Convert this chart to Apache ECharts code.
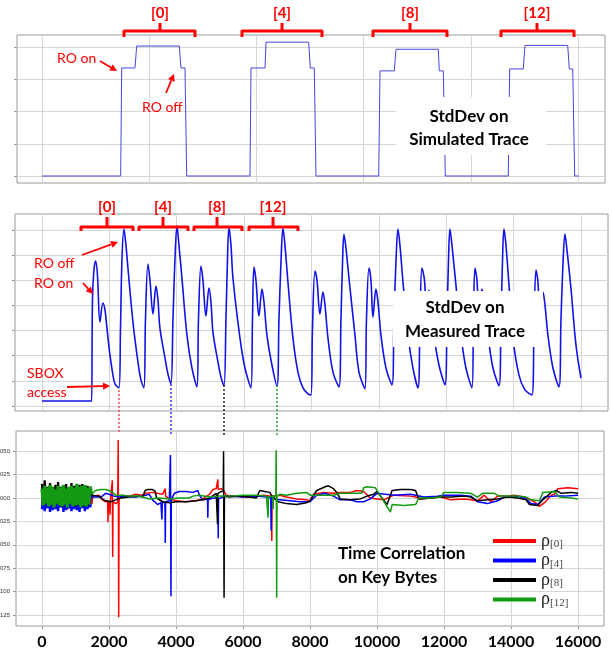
<!DOCTYPE html>
<html><head><meta charset="utf-8">
<script src="https://cdn.jsdelivr.net/npm/echarts@6/dist/echarts.min.js"></script>
<style>html,body{margin:0;padding:0;background:#fff}#c{width:612px;height:654px}</style>
</head><body><div id="c"></div>
<script>
// ---------- DATA ----------
// Top panel: StdDev on simulated trace (x in samples, y in tick units)
const simTrace = [[0,0],[2349,0],[2379,3.35],[2776,3.35],[2827,4.03],[4099,4.03],[4149,3.35],[4269,3.35],[4319,0],[6209,0],[6239,3.35],[6657,3.35],[6687,4.15],[7961,4.15],[8009,3.35],[8128,3.35],[8179,0],[10051,0],[10090,3.26],[10516,3.26],[10567,3.93],[11830,3.93],[11860,3.26],[11979,3.26],[12039,0],[13919,0],[13961,3.32],[14367,3.32],[14418,4.05],[15693,4.05],[15740,3.32],[15842,3.32],[15901,0],[16021,0]];
const simXTicks = [0,3200,6400,9600,12800,16000];
const simYTicks = [0,1,2,3,4];

// Middle panel: StdDev on measured trace
const measTrace = [[0,0.2],[1454,0.2],[1475,0.2],[1499,4.22],[1543,5.41],[1594,5.77],[1647,5.21],[1721,3.34],[1810,4.10],[1870,3.82],[1929,3.10],[2018,2.03],[2107,1.23],[2167,0.88],[2285,0.72],
[2330,3.02],[2374,5.81],[2434,7.04],[2493,6.40],[2552,5.49],[2701,3.34],[2849,1.75],[2938,1.03],[3027,0.72],
[3072,3.42],[3146,5.65],[3206,5.01],[3295,3.66],[3384,4.77],[3443,4.22],[3502,3.10],[3651,1.91],[3740,1.27],[3829,0.88],
[3888,3.42],[3947,5.81],[4007,7.16],[4066,6.40],[4155,5.09],[4304,2.82],[4452,1.51],[4600,0.76],
[4645,3.42],[4719,5.57],[4778,5.01],[4867,3.58],[4957,4.69],[5016,4.14],[5075,2.94],[5224,1.75],[5313,1.15],[5402,0.80],
[5461,3.42],[5506,5.81],[5550,7.12],[5610,6.40],[5669,5.09],[5877,2.70],[6025,1.51],[6203,0.72],
[6248,3.42],[6292,5.53],[6351,5.01],[6440,3.58],[6530,4.65],[6589,4.14],[6678,2.82],[6826,1.63],[6975,0.80],
[7034,3.42],[7094,5.73],[7153,7.08],[7212,6.40],[7301,4.93],[7450,2.70],[7598,1.35],[7746,0.72],[7895,0.48],[7984,0.44],
[8028,3.02],[8103,5.37],[8162,5.01],[8251,3.66],[8340,4.53],[8400,4.02],[8489,2.70],[8637,1.35],[8815,0.76],
[8874,3.42],[8919,5.61],[8963,6.84],[9023,6.28],[9112,5.09],[9290,2.82],[9409,1.35],[9587,0.68],
[9631,3.42],[9706,5.49],[9765,5.01],[9824,3.54],[9913,4.65],[9973,4.14],[10062,2.82],[10210,1.51],[10388,0.84],
[10447,3.42],[10507,5.73],[10566,7.04],[10625,6.40],[10715,4.93],[10863,2.82],[11011,1.51],[11160,0.72],
[11219,3.42],[11278,5.49],[11353,5.01],[11413,3.62],[11486,4.61],[11546,4.10],[11635,2.82],[11783,1.63],[11961,0.84],
[12020,3.42],[12065,5.73],[12109,7.04],[12169,6.40],[12287,4.81],[12436,2.82],[12584,1.51],[12762,0.72],
[12807,3.42],[12851,5.49],[12911,5.01],[12970,3.54],[13059,4.65],[13119,4.14],[13237,2.82],[13386,1.51],[13564,0.80],
[13623,3.42],[13668,5.73],[13712,7.04],[13772,6.40],[13861,4.81],[13980,2.70],[14158,1.23],[14336,0.64],[14543,0.44],
[14603,3.02],[14662,5.41],[14722,4.93],[14766,3.62],[14870,4.53],[14929,4.02],[15018,2.82],[15166,1.51],[15344,0.76],
[15404,3.42],[15463,5.61],[15522,6.84],[15582,6.21],[15700,4.69],[15849,2.43],[15997,1.11]];
const measXTicks = [0,2000,4000,6000,8000,10000,12000,14000,16000];
const measYTicks = [0,1,2,3,4,5,6,7];

// Bottom panel: time correlation on key bytes
const corrXTicks = [0,2000,4000,6000,8000,10000,12000,14000,16000];
const corrYTicks = [-0.125,-0.1,-0.075,-0.05,-0.025,0,0.025,0.05];
const noiseStep = 40; // sample spacing of the noisy start segment
const rho0Noise = [0.008,-0.009,0.011,-0.007,0.010,-0.010,0.009,-0.008,0.012,-0.009,0.010,-0.011,0.013,-0.008,0.009,-0.010,0.011,-0.009,0.010,-0.012,0.008,-0.010,0.012,-0.009,0.011,-0.008,0.010,-0.011,0.009,-0.010,0.013,-0.009,0.011,-0.010,0.012,-0.008,0.010,-0.006];
const rho4Noise = [-0.012,0.008,-0.014,0.006,-0.011,0.009,-0.015,0.007,-0.013,0.010,-0.012,0.005,-0.014,0.008,-0.010,0.009,-0.015,0.006,-0.013,0.010,-0.011,0.007,-0.014,0.008,-0.012,0.009,-0.013,0.006,-0.015,0.008,-0.011,0.010,-0.014,0.007,-0.012,0.009,-0.010,0.004];
const rho8Noise = [0.015,-0.008,0.019,-0.006,0.012,-0.009,0.016,-0.007,0.011,-0.010,0.014,-0.006,0.017,-0.008,0.012,-0.009,0.013,-0.007,0.015,-0.010,0.011,-0.006,0.016,-0.008,0.013,-0.009,0.012,-0.007,0.014,-0.008,0.015,-0.009,0.011,-0.007,0.013,-0.008,0.012,0.003];
const rho12Noise = [0.010,-0.008,0.013,-0.006,0.011,-0.009,0.014,-0.007,0.012,-0.010,0.009,-0.006,0.013,-0.008,0.011,-0.009,0.014,-0.007,0.010,-0.010,0.012,-0.006,0.013,-0.009,0.011,-0.008,0.015,-0.007,0.012,-0.010,0.013,-0.008,0.014,-0.009,0.011,-0.007,0.012,0.004];

const rho0Trace = [[1480,-0.006],[1520,0.002],[1700,0.003],[1800,-0.002],[1900,-0.004],[1960,-0.003],[1970,-0.026],[1980,-0.004],[2000,-0.012],[2010,-0.003],[2030,-0.018],[2040,-0.004],[2050,-0.005],[2100,0.019],[2110,-0.063],[2120,-0.004],[2200,-0.006],[2260,-0.004],[2275,0.062],[2290,-0.1275],[2300,-0.001],[2400,0.003],[2600,0.002],[2800,0.004],[3000,0.003],[3100,0.005],[3300,0.006],[3600,0.004],[3680,0.010],[3690,0.002],[3800,-0.001],[4000,-0.003],[4300,-0.004],[4600,-0.003],[4800,-0.001],[5000,0.004],[5100,0.009],[5200,0.010],[5250,0.020],[5260,0.009],[5350,0.010],[5420,0.008],[5500,0.003],[5800,0.002],[6000,0.001],[6300,0.001],[6600,0.003],[6850,0.002],[6860,-0.046],[6870,0.002],[7100,0.003],[7300,0.001],[7600,-0.001],[7900,-0.002],[8000,-0.003],[8100,0.004],[8400,0.006],[8700,0.005],[8900,0.006],[9200,0.006],[9400,0.008],[9600,0.007],[9800,0.000],[10000,-0.001],[10200,-0.002],[10500,0.003],[11000,0.002],[11150,0.001],[11300,-0.001],[11600,0.000],[11900,0.001],[12200,-0.002],[12600,-0.001],[12800,-0.002],[13000,-0.003],[13200,0.003],[13400,-0.004],[13600,0.002],[13800,0.002],[14100,0.003],[14400,0.001],[14700,-0.004],[14850,-0.009],[15000,-0.005],[15200,0.003],[15300,0.004],[15400,0.010],[15700,0.011],[16000,0.010]];
const rho4Trace = [[1480,0.004],[1520,0.001],[1700,0.001],[1800,0.002],[1900,0.005],[2000,0.004],[2150,0.002],[2300,0.001],[2500,0.002],[2800,0.001],[3000,0.002],[3200,0.004],[3300,-0.002],[3450,-0.007],[3550,-0.005],[3570,-0.004],[3580,-0.023],[3590,-0.004],[3670,-0.005],[3680,-0.048],[3690,-0.004],[3800,-0.003],[3835,0.046],[3850,-0.105],[3860,-0.002],[3950,0.005],[4100,0.007],[4300,0.007],[4500,0.006],[4650,0.008],[4700,0.003],[4800,-0.002],[4940,-0.001],[4950,-0.021],[4960,-0.002],[5100,0.000],[5250,0.000],[5260,-0.043],[5270,-0.001],[5400,0.001],[5600,0.002],[6000,0.001],[6400,0.002],[6700,0.001],[6830,0.000],[6840,-0.035],[6850,0.000],[7100,-0.002],[7400,-0.003],[7700,-0.004],[8000,-0.004],[8200,0.003],[8450,0.005],[8700,0.002],[8900,-0.002],[9200,-0.002],[9400,-0.004],[9600,-0.004],[9800,-0.001],[10000,0.005],[10250,0.004],[10500,0.003],[11000,0.004],[11150,0.003],[11400,0.001],[11800,0.002],[12000,0.003],[12500,0.003],[12800,0.002],[13000,-0.004],[13300,-0.006],[13600,-0.003],[13800,0.001],[14200,0.002],[14450,-0.001],[14600,-0.006],[14800,-0.007],[15000,0.001],[15300,0.002],[15600,0.002],[16000,0.003]];
const rho8Trace = [[1480,0.003],[1520,0.001],[1700,0.002],[1800,-0.001],[1900,-0.003],[2050,-0.004],[2200,-0.002],[2350,0.000],[2600,0.001],[2900,0.002],[3000,0.001],[3080,0.008],[3150,0.009],[3300,0.009],[3380,0.007],[3420,0.000],[3600,-0.004],[3800,-0.005],[4000,-0.004],[4300,-0.004],[4600,-0.003],[4800,-0.002],[5000,0.000],[5200,0.005],[5230,0.005],[5240,-0.028],[5250,0.005],[5350,0.007],[5410,0.007],[5420,0.050],[5435,-0.1065],[5445,0.002],[5600,0.001],[5900,0.002],[6200,0.001],[6400,0.000],[6500,0.008],[6650,0.007],[6800,0.006],[6850,0.003],[7050,-0.004],[7300,-0.006],[7600,-0.007],[7900,-0.005],[8000,-0.003],[8200,0.008],[8450,0.012],[8550,0.013],[8700,0.010],[8800,0.006],[8900,-0.001],[9200,-0.002],[9500,-0.001],[9700,0.002],[9900,0.004],[10000,0.007],[10300,-0.007],[10450,0.008],[10700,0.009],[11000,0.009],[11150,0.008],[11250,-0.001],[11600,0.000],[11900,0.001],[12200,0.001],[12600,0.002],[12800,0.001],[13000,-0.003],[13300,-0.002],[13600,-0.001],[13900,0.001],[14200,0.000],[14450,-0.002],[14550,-0.007],[14800,-0.008],[14950,-0.002],[15200,0.006],[15350,0.008],[15500,0.005],[15800,0.006],[16000,0.005]];
const rho12Trace = [[1480,0.004],[1520,0.005],[1600,0.008],[1750,0.009],[1900,0.009],[2000,0.008],[2100,0.006],[2200,0.003],[2350,0.003],[2600,0.002],[2900,0.002],[3000,0.001],[3200,-0.001],[3500,0.000],[3800,-0.001],[4100,0.000],[4400,0.000],[4500,0.002],[4700,0.003],[5000,0.001],[5300,0.002],[5600,0.002],[6000,0.003],[6400,0.003],[6700,0.002],[6740,0.002],[6750,-0.021],[6760,0.001],[6890,0.002],[6900,-0.012],[6910,0.002],[6980,0.002],[6990,0.051],[7005,-0.1065],[7015,0.002],[7100,0.004],[7300,0.003],[7600,0.005],[7900,0.006],[8000,0.003],[8300,0.003],[8700,0.003],[8900,0.005],[9200,0.005],[9550,0.005],[9600,0.011],[9700,0.012],[9950,0.011],[10400,-0.015],[10450,-0.007],[10800,-0.008],[11150,-0.007],[11250,0.000],[11600,0.000],[11900,0.001],[12000,0.006],[12400,0.006],[12800,0.005],[13000,0.001],[13150,0.005],[13500,0.005],[13650,0.002],[13900,0.002],[14200,0.002],[14450,0.001],[14600,-0.002],[14850,-0.003],[14950,0.006],[15300,0.007],[15450,0.001],[15800,0.000],[16000,-0.001]];

const rhoNames = ['ρ[0]','ρ[4]','ρ[8]','ρ[12]'];
const rhoColors = ['#ff0000','#0000ff','#000000','#129a12'];
const rhoNoise = [rho0Noise, rho4Noise, rho8Noise, rho12Noise];
const rhoTrace = [rho0Trace, rho4Trace, rho8Trace, rho12Trace];

// ---------- CHART ----------
const SANS = 'Lato, "Open Sans", sans-serif';
const RED = '#ff0000';
const GRIDC = '#d6d6d6';
const BORDER = '#9a9a9a';

function xAx(grid, min, max, ticks, showLabels){
  return {type:'value', gridIndex:grid, min:min, max:max,
    axisLine:{show:false, onZero:false},
    axisTick:{show:showLabels, length:3, customValues:ticks, lineStyle:{color:BORDER}},
    axisLabel:{show:showLabels, customValues:ticks, color:'#000', fontFamily:SANS, fontWeight:'bold', fontSize:16, margin:8,
      formatter:function(v){return String(v);}},
    splitLine:{show:true, lineStyle:{color:GRIDC, width:1}}};
}
function yAx(grid, min, max, ticks, showLabels){
  return {type:'value', gridIndex:grid, min:min, max:max,
    axisLine:{show:false, onZero:false},
    axisTick:{show:true, length:3, customValues:ticks, lineStyle:{color:BORDER}},
    axisLabel:{show:showLabels, customValues:ticks, color:'#333', fontFamily:'"Liberation Sans", sans-serif', fontSize:6, margin:6,
      formatter:function(v){return v.toFixed(3);}},
    splitLine:{show:true, lineStyle:{color:GRIDC, width:1}}};
}

function arrow(x1,y1,x2,y2){
  const dx=x2-x1, dy=y2-y1, L=Math.hypot(dx,dy), ux=dx/L, uy=dy/L;
  const hl=7, hw=3.6, bx=x2-ux*hl, by=y2-uy*hl;
  return [
    {type:'line', z:120, shape:{x1:x1,y1:y1,x2:bx,y2:by}, style:{stroke:RED, lineWidth:1.8}},
    {type:'polygon', z:120, shape:{points:[[x2,y2],[bx-uy*hw,by+ux*hw],[bx+uy*hw,by-ux*hw]]}, style:{fill:RED}}
  ];
}
function brace(x1,x2,cx,yb,yh,yt,label,ly){
  return [
    {type:'polyline', z:120, shape:{points:[[x1,yb],[x1,yh],[x2,yh],[x2,yb]]}, style:{stroke:RED, lineWidth:3, fill:null, lineJoin:'round'}},
    {type:'line', z:120, shape:{x1:cx,y1:yh,x2:cx,y2:yt}, style:{stroke:RED, lineWidth:3}},
    txt(label, cx, ly, 'bold 15px '+SANS, RED, 'center')
  ];
}
function txt(t,x,y,font,color,align,lh){
  return {type:'text', z:130, x:x, y:y, style:{text:t, font:font, fill:color,
    align:align, textAlign:align, verticalAlign:'middle', textVerticalAlign:'middle', lineHeight:lh||18}};
}
function dotted(x,y1,y2,color){
  return {type:'line', z:110, shape:{x1:x,y1:y1,x2:x,y2:y2}, style:{stroke:color, lineWidth:1.5, lineDash:[2,2]}};
}

const series = [
  {type:'line', xAxisIndex:0, yAxisIndex:0, data:simTrace, symbol:'none', lineStyle:{color:'#4646dc', width:1}, itemStyle:{color:'#4646dc'}, silent:true},
  {type:'line', xAxisIndex:1, yAxisIndex:1, data:measTrace, symbol:'none', smooth:0.35, lineStyle:{color:'#1212e6', width:1.6}, itemStyle:{color:'#1212e6'}, silent:true}
];
// noisy start segments (thicker), then the traces
const noiseWidths = [2.4, 2.4, 2.2, 3.2];
for(let k=0;k<4;k++){
  series.push({type:'line', name:rhoNames[k], xAxisIndex:2, yAxisIndex:2,
    data:rhoNoise[k].map(function(v,i){return [i*noiseStep, v];}), symbol:'none',
    lineStyle:{color:rhoColors[k], width:noiseWidths[k]}, itemStyle:{color:rhoColors[k]}, silent:true});
}
for(let k=0;k<4;k++){
  series.push({type:'line', name:rhoNames[k], xAxisIndex:2, yAxisIndex:2, data:rhoTrace[k], symbol:'none',
    lineStyle:{color:rhoColors[k], width:1.5}, itemStyle:{color:rhoColors[k]}, silent:true});
}

let g = [];
g = g.concat(brace(124,195,160,37,31,23,'[0]',13));
g = g.concat(brace(242,322,282,37,31,23,'[4]',13));
g = g.concat(brace(373,447,410,37,31,23,'[8]',13));
g = g.concat(brace(501,574,537,37,31,23,'[12]',13));
g.push(txt('RO on', 57, 58, '14px '+SANS, RED, 'left'));
g = g.concat(arrow(100,61,117,71));
g.push(txt('RO off', 142, 107, '14px '+SANS, RED, 'left'));
g = g.concat(arrow(166,93,174,74));
g.push({type:'rect', z:100, shape:{x:396,y:97,width:150,height:58}, style:{fill:'#fff'}});
g.push(txt('StdDev on\nSimulated Trace', 469, 128.5, 'bold 17px '+SANS, '#000', 'center', 23));
g = g.concat(brace(81,133,107,231,227,217,'[0]',207));
g = g.concat(brace(139,188,163,231,227,217,'[4]',207));
g = g.concat(brace(194,242,217,231,227,217,'[8]',207));
g = g.concat(brace(249,298,273,231,227,217,'[12]',207));
g.push(txt('RO off', 34, 263, '14px '+SANS, RED, 'left'));
g = g.concat(arrow(82,255,118,242));
g.push(txt('RO on', 34, 283, '14px '+SANS, RED, 'left'));
g = g.concat(arrow(83,283,93,294));
g.push(txt('SBOX\naccess', 27, 382.5, '14px '+SANS, RED, 'left', 19));
g = g.concat(arrow(67,387,110,386));
g.push({type:'rect', z:100, shape:{x:393,y:291,width:150,height:56}, style:{fill:'#fff'}});
g.push(txt('StdDev on\nMeasured Trace', 465, 320, 'bold 17px '+SANS, '#000', 'center', 24));
g.push(dotted(119,390,432,'#ff5050'));
g.push(dotted(171,384,435,'#3030ff'));
g.push(dotted(224,385,435,'#222222'));
g.push(dotted(277,385,435,'#20a040'));
g.push(txt('Time Correlation\non Key Bytes', 338, 566, 'bold 17px '+SANS, '#000', 'left', 24));

const option = {
  animation:false,
  backgroundColor:'#fff',
  grid:[
    {left:17, top:35, width:588, height:148, show:true, borderColor:BORDER, borderWidth:1, containLabel:false, outerBoundsMode:'none'},
    {left:15, top:214, width:593, height:197, show:true, borderColor:BORDER, borderWidth:1, containLabel:false, outerBoundsMode:'none'},
    {left:16, top:431, width:588, height:195, show:true, borderColor:BORDER, borderWidth:1, containLabel:false, outerBoundsMode:'none'}
  ],
  xAxis:[
    xAx(0,-746,16806,simXTicks,false),
    xAx(1,-800,16800,measXTicks,false),
    xAx(2,-776,16776,corrXTicks,true)
  ],
  yAxis:[
    yAx(0,-0.217,4.372,simYTicks,false),
    yAx(1,-0.2,7.64,measYTicks,false),
    yAx(2,-0.1368,0.0716,corrYTicks,true)
  ],
  legend:{
    orient:'vertical', left:488, top:527, itemWidth:43, itemHeight:4, itemGap:1.5, icon:'rect',
    data:rhoNames, selectedMode:false,
    formatter:function(n){return '{r|ρ}{s|'+n.slice(1)+'}';},
    textStyle:{rich:{
      r:{fontFamily:'"Liberation Serif", "DejaVu Serif", serif', fontSize:18, lineHeight:18, color:'#222'},
      s:{fontFamily:'"Liberation Serif", "DejaVu Serif", serif', fontSize:11, lineHeight:11, verticalAlign:'bottom', color:'#444'}
    }}
  },
  series:series,
  graphic:{elements:g}
};
const chart = echarts.init(document.getElementById('c'));
chart.setOption(option);
</script></body></html>
